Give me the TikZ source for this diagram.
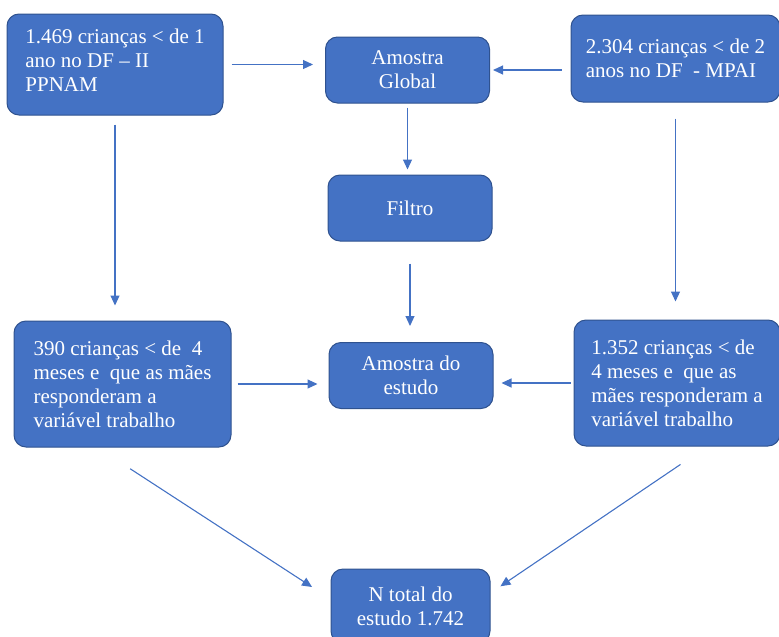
\documentclass[tikz,border=0pt]{standalone}
\usepackage{fontspec}
\setmainfont{Liberation Serif}
\usetikzlibrary{arrows.meta}
\definecolor{boxblue}{HTML}{4472C4}
\definecolor{boxedge}{HTML}{2F528F}
\begin{document}
\begin{tikzpicture}[
            x=1pt, y=-1pt,
            box/.style={draw=boxedge, fill=boxblue, line width=1pt, rounded corners=12pt,
                text=white, font=\fontsize{21}{24}\selectfont, inner sep=0pt},
            sidebox/.style={box, align=left},
            midbox/.style={box, align=center, minimum width=164pt, minimum height=66pt},
            arr/.style={draw=boxblue, line width=1.1pt, -{Triangle[length=10pt,width=9pt]}}
        ]
            \useasboundingbox (0,0) rectangle (779,637);

            \node[sidebox, minimum width=216pt, minimum height=101pt] (pnam) at (115,64.5)
                {1.469 crianças < de 1\\ano no DF -- II\\PPNAM\\[-16pt]};
            \node[midbox] (global) at (407.5,70) {Amostra\\Global};
            \node[sidebox, minimum width=209pt, minimum height=87pt] (mpai) at (675.5,58.5)
                {2.304 crianças < de 2\\anos no DF~ - MPAI};
            \node[midbox] (filtro) at (410,208) {Filtro};
            \node[sidebox, minimum width=217pt, minimum height=126pt] (sub1) at (122.5,384)
                {390 crianças < de~ 4\\meses e~ que as mães\\responderam a\\variável trabalho};
            \node[midbox] (estudo) at (411,375.5) {Amostra do\\estudo};
            \node[sidebox, minimum width=206pt, minimum height=126pt] (sub2) at (677,383)
                {1.352 crianças < de\\4 meses e~ que as\\mães responderam a\\variável trabalho};
            \node[midbox, minimum width=159pt, minimum height=74pt] (total) at (410.5,606)
                {N total do\\estudo 1.742};

            \draw[arr, shorten <=8pt, shorten >=12pt] (pnam.east) -- (pnam.east -| global.west);
            \draw[arr, shorten <=9pt, shorten >=3pt] (mpai.west |- global) -- (global.east);
            \draw[arr, shorten <=4pt, shorten >=5pt] (global.south) -- (global.south |- filtro.north);
            \draw[arr, shorten <=22pt, shorten >=16pt] (filtro.south) -- (filtro.south |- estudo.north);
            \draw[arr, shorten <=9pt, shorten >=15pt] (pnam.south) -- (pnam.south |- sub1.north);
            \draw[arr, shorten <=16pt, shorten >=18pt] (mpai.south) -- (mpai.south |- sub2.north);
            \draw[arr, shorten <=6pt, shorten >=11pt] (sub1.east) -- (sub1.east -| estudo.west);
            \draw[arr, shorten <=3pt, shorten >=8pt] (sub2.west) -- (sub2.west -| estudo.east);
            \draw[arr, shorten <=39pt, shorten >=22pt] ([xshift=-25pt]sub1.south) -- ([yshift=7pt]total.west);
            \draw[arr, shorten <=32pt, shorten >=12pt] ([xshift=30pt]sub2.south) -- ([yshift=13pt]total.east);

        \end{tikzpicture}
\end{document}
